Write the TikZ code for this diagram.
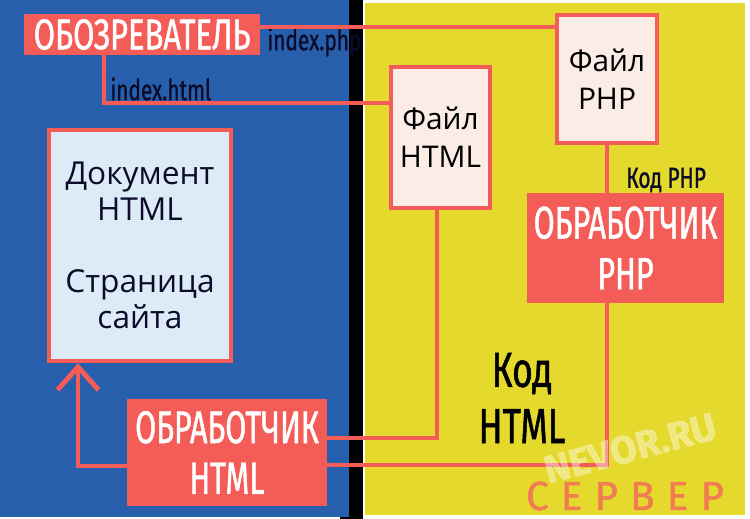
\documentclass[tikz,border=0pt]{standalone}
\usepackage{fontspec}
\setmainfont{Open Sans}
\newfontfamily\condfont[FakeStretch=0.72,FakeBold=1]{Fira Sans}
\newfontfamily\narrowfont[FakeStretch=0.67,FakeBold=1]{Fira Sans}
\newfontfamily\widefont[FakeBold=1.2]{Fira Sans}
\usetikzlibrary{positioning,calc,arrows.meta}

\definecolor{clientblue}{RGB}{40,95,172}
\definecolor{serveryellow}{RGB}{230,217,46}
\definecolor{wirered}{RGB}{244,92,88}
\definecolor{filefill}{RGB}{251,237,230}
\definecolor{docfill}{RGB}{221,235,247}
\definecolor{labelnavy}{RGB}{12,12,42}
\definecolor{serverorange}{RGB}{240,124,82}

\begin{document}
\begin{tikzpicture}[x=0.02cm,y=-0.02cm,
    handler/.style={fill=wirered,text=white,align=center,inner sep=0pt,
      font=\narrowfont\fontsize{26}{29}\selectfont},
    filebox/.style={draw=wirered,line width=2.6pt,fill=filefill,align=center,inner sep=0pt,
      font=\fontsize{17}{21.5}\selectfont},
    wire/.style={draw=wirered,line width=2.8pt},
    fname/.style={text=labelnavy,inner sep=0pt,font=\condfont\fontsize{16.5}{19}\selectfont}]
    \useasboundingbox (0,0) rectangle (750,519);
    % background panels
    \fill[white] (0,0) rectangle (750,519);
    \fill[black] (340,0) rectangle (363,519);
    \fill[clientblue] (0,0) rectangle (349,517);
    \fill[serveryellow] (365,3) rectangle (745,515);
    % nodes
    \node[handler,minimum width=4.72cm,minimum height=0.82cm,font=\condfont\fontsize{24.5}{28}\selectfont] (browser) at (142,34.5) {ОБОЗРЕВАТЕЛЬ};
    \node[filebox,minimum width=1.98cm,minimum height=2.82cm] (htmlfile) at (440.5,137.5) {Файл\\HTML};
    \node[filebox,minimum width=2.0cm,minimum height=2.56cm] (phpfile) at (607,79) {Файл\\PHP};
    \node[handler,minimum width=3.94cm,minimum height=2.2cm] (phphandler) at (625.5,248) {ОБРАБОТЧИК\\PHP};
    \node[handler,minimum width=4.0cm,minimum height=2.14cm] (htmlhandler) at (227,452.5) {ОБРАБОТЧИК\\HTML};
    \node[filebox,fill=docfill,text=labelnavy,minimum width=3.64cm,minimum height=4.62cm,
      font=\fontsize{18}{20.5}\selectfont] (doc) at (140,245.5) {Документ\\HTML\\[20.5pt]Страница\\сайта};
    % labels
    \node[fname,anchor=west] (phplabel) at (267,42) {index.php};
    \node[fname,anchor=west] (htmllabel) at (110,89) {index.html};
    \node[fname,anchor=west] (phpcode) at (626,180) {Код PHP};
    \node[text=black,align=center,font=\condfont\fontsize{28}{32}\selectfont] (htmlcode) at (522,398) {Код\\HTML};
    % connectors
    \draw[wire] ([yshift=0.15cm]browser.east) -- ([yshift=0.15cm]browser.east -| phpfile.west);
    \draw[wire] ([xshift=-0.76cm]browser.south) |- ([yshift=0.69cm]htmlfile.west);
    \draw[wire] (phpfile.south) -- (phpfile.south |- phphandler.north);
    \draw[wire] (phpfile.south |- phphandler.south) |- ([yshift=-0.25cm]htmlhandler.east);
    \draw[wire] ([xshift=-0.07cm]htmlfile.south) |- ([yshift=0.29cm]htmlhandler.east);
    \draw[wire,-{Straight Barb[length=0.46cm,width=0.82cm,line width=2.8pt]}]
      ([yshift=-0.27cm]htmlhandler.west) -| ([xshift=-1.24cm]doc.south);
    % caption and watermark
    \node[text=white,opacity=0.4,rotate=15,inner sep=0pt,font=\widefont\bfseries\fontsize{22}{24}\selectfont] (nevor) at (630,448) {NEVOR.RU};
    \node[text=serverorange,inner sep=0pt,font=\widefont\fontsize{23}{26}\selectfont\addfontfeature{LetterSpace=30}] (server) at (625,496) {СЕРВЕР};
\end{tikzpicture}
\end{document}
